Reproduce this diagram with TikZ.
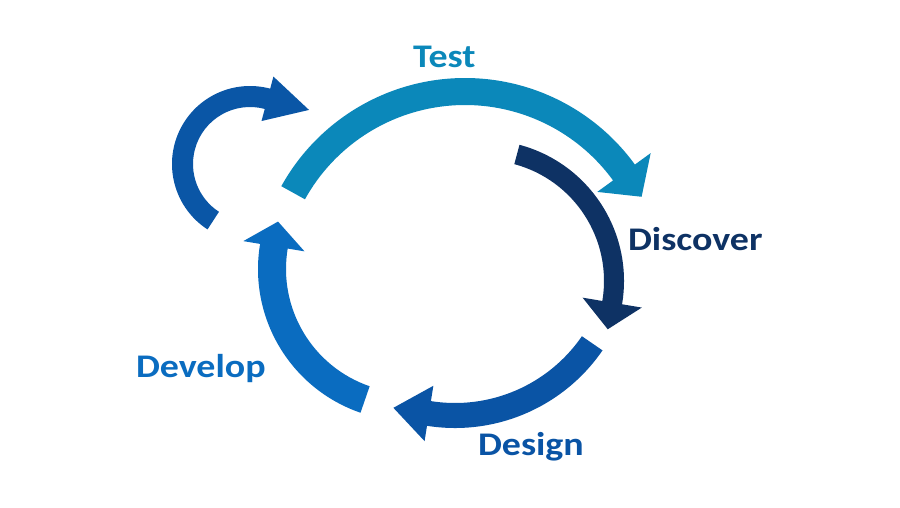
\documentclass[tikz,border=0pt]{standalone}
\usepackage{fontspec}
\usepackage{graphicx}
\setmainfont{Carlito}
\usetikzlibrary{calc}

\definecolor{testblue}{RGB}{11,136,186}
\definecolor{discovernavy}{RGB}{14,50,100}
\definecolor{designblue}{RGB}{10,84,165}
\definecolor{developblue}{RGB}{10,108,192}
\definecolor{loopblue}{RGB}{10,86,166}

% Thick circular arrow: #1 colour, #2 centre coordinate, #3 centre-line radius,
% #4 band width, #5 tail angle, #6 head angle, #7 head half-width, #8 head length
\newcommand{\cyclearrow}[8]{%
  \pgfmathsetmacro\arcOuter{#3+#4/2}%
  \pgfmathsetmacro\arcInner{#3-#4/2}%
  \pgfmathsetmacro\barbOuter{#3+#7}%
  \pgfmathsetmacro\barbInner{#3-#7}%
  \pgfmathsetmacro\tipDir{#6+90}%
  \fill[#1] ($(#2)+(#5:\arcOuter)$)
    arc[start angle=#5, end angle=#6, radius=\arcOuter]
    -- ($(#2)+(#6:\barbOuter)$)
    -- ($(#2)+(#6:#3)+(\tipDir:#8)$)
    -- ($(#2)+(#6:\barbInner)$)
    -- ($(#2)+(#6:\arcInner)$)
    arc[start angle=#6, end angle=#5, radius=\arcInner]
    -- cycle;}

\tikzset{
  steplabel/.style={anchor=base west, inner sep=0pt, outer sep=0pt,
    font=\fontsize{33}{40}\selectfont\bfseries}
}

\begin{document}
\begin{tikzpicture}[x=1pt, y=-1pt]
  \useasboundingbox (0,0) rectangle (900,507);
  \fill[white] (0,0) rectangle (900,507);

  % centres of the arcs
  \coordinate (loopC) at (250,164);
  \coordinate (testC) at (465,288);
  \coordinate (discoverC) at (483,281);
  \coordinate (designC) at (455,249);
  \coordinate (developC) at (410,269);

  % arrows
  \cyclearrow{loopblue}{loopC}{67.5}{21}{123}{285}{23}{43}
  \cyclearrow{testblue}{testC}{196.5}{27}{-151}{-36}{33}{30}
  \cyclearrow{discovernavy}{discoverC}{131}{20}{-75}{9.5}{30}{27}
  \cyclearrow{designblue}{designC}{166.5}{25}{34.5}{99}{28}{36}
  \cyclearrow{developblue}{developC}{138}{28}{109}{189.5}{31}{25}

  % labels
  \node[steplabel, text=testblue] (test) at (413,67) {\scalebox{1.15}[1]{Test}};
  \node[steplabel, text=discovernavy] (discover) at (628,250) {\scalebox{1.15}[1]{Discover}};
  \node[steplabel, text=designblue] (design) at (478,455) {\scalebox{1.15}[1]{Design}};
  \node[steplabel, text=developblue] (develop) at (136,377) {\scalebox{1.15}[1]{Develop}};
\end{tikzpicture}
\end{document}
